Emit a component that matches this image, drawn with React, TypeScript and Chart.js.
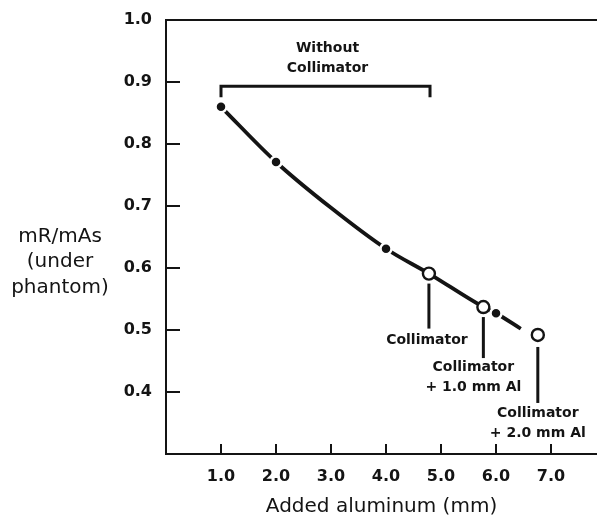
import React, { useEffect, useRef } from 'react';
import { Chart, registerables } from 'chart.js';

Chart.register(...registerables);

// ---- data ----
const curveX = [1.0, 2.0, 3.0, 4.0, 4.78, 5.77, 6.0, 6.45];
const curveY = [0.86, 0.771, 0.697, 0.631, 0.591, 0.537, 0.527, 0.502];
const dotX = [1.0, 2.0, 4.0, 6.0];
const dotY = [0.86, 0.771, 0.631, 0.527];
const openX = [4.78, 5.77, 6.76];
const openY = [0.591, 0.537, 0.492];
const openLabels = [
  ['Collimator'],
  ['Collimator', '+ 1.0 mm Al'],
  ['Collimator', '+ 2.0 mm Al'],
];
const xTicks = [1, 2, 3, 4, 5, 6, 7];
const yTicks = [0.4, 0.5, 0.6, 0.7, 0.8, 0.9, 1.0];
const bracketX = [1.0, 4.8];
const bracketY = 0.893;
const bracketLabel = ['Without', 'Collimator'];
const xTitle = 'Added aluminum (mm)';
const yTitle = ['mR/mAs', '(under', 'phantom)'];

const INK = '#141414';
const FONT = '"DejaVu Sans", sans-serif';

const annotPlugin = {
  id: 'annot',
  afterDraw(chart: any) {
    const { ctx, chartArea } = chart;
    const xs = chart.scales.x;
    const ys = chart.scales.y;
    ctx.save();
    ctx.strokeStyle = INK;
    ctx.fillStyle = INK;
    ctx.lineCap = 'butt';

    // top frame line
    ctx.lineWidth = 2;
    ctx.beginPath();
    ctx.moveTo(chartArea.left, chartArea.top);
    ctx.lineTo(chartArea.right, chartArea.top);
    ctx.stroke();

    // inward tick marks
    ctx.lineWidth = 2;
    xTicks.forEach((v) => {
      const px = Math.round(xs.getPixelForValue(v));
      ctx.beginPath();
      ctx.moveTo(px, chartArea.bottom);
      ctx.lineTo(px, chartArea.bottom - 10);
      ctx.stroke();
    });
    yTicks.forEach((v) => {
      const py = Math.round(ys.getPixelForValue(v));
      ctx.beginPath();
      ctx.moveTo(chartArea.left, py);
      ctx.lineTo(chartArea.left + 14, py);
      ctx.stroke();
    });

    // bracket "Without Collimator"
    const bx0 = xs.getPixelForValue(bracketX[0]);
    const bx1 = xs.getPixelForValue(bracketX[1]);
    const by = ys.getPixelForValue(bracketY);
    ctx.lineWidth = 3;
    ctx.beginPath();
    ctx.moveTo(bx0, by + 11);
    ctx.lineTo(bx0, by);
    ctx.lineTo(bx1, by);
    ctx.lineTo(bx1, by + 11);
    ctx.stroke();
    ctx.font = `bold 14px ${FONT}`;
    ctx.textAlign = 'center';
    ctx.textBaseline = 'middle';
    const bcx = (bx0 + bx1) / 2 + 2;
    ctx.fillText(bracketLabel[0], bcx, by - 38);
    ctx.fillText(bracketLabel[1], bcx, by - 18);

    // leader lines and labels for open circles
    const leaders = [
      { start: 10, end: 55, text: 12 },
      { start: 10, end: 51, text: 9 },
      { start: 12, end: 68, text: 10 },
    ];
    openX.forEach((v, i) => {
      const px = xs.getPixelForValue(v);
      const py = ys.getPixelForValue(openY[i]);
      const L = leaders[i];
      ctx.lineWidth = 3;
      ctx.beginPath();
      ctx.moveTo(px, py + L.start);
      ctx.lineTo(px, py + L.end);
      ctx.stroke();
      const lines = openLabels[i];
      const tx = i === 0 ? px - 2 : i === 1 ? px - 10 : px;
      lines.forEach((t, k) => {
        ctx.fillText(t, tx, py + L.end + L.text + k * 20);
      });
    });

    // y title (horizontal, left side)
    ctx.font = `20px ${FONT}`;
    const ymid = ys.getPixelForValue(0.6) - 6;
    yTitle.forEach((t, k) => {
      ctx.fillText(t, 60, ymid + (k - 1) * 25.5);
    });
    ctx.restore();
  },
};

export default function App() {
  const ref = useRef<HTMLCanvasElement | null>(null);
  useEffect(() => {
    if (!ref.current) return;
    const curve = curveX.map((x, i) => ({ x, y: curveY[i] }));
    const dots = dotX.map((x, i) => ({ x, y: dotY[i] }));
    const opens = openX.map((x, i) => ({ x, y: openY[i] }));
    const chart = new Chart(ref.current, {
      type: 'scatter',
      data: {
        datasets: [
          {
            data: dots,
            pointRadius: 5.5,
            pointBackgroundColor: INK,
            pointBorderColor: '#ffffff',
            pointBorderWidth: 2.5,
            showLine: false,
            order: 1,
          },
          {
            data: opens,
            pointRadius: 6,
            pointBackgroundColor: '#ffffff',
            pointBorderColor: INK,
            pointBorderWidth: 2.4,
            showLine: false,
            order: 0,
          },
          {
            data: curve,
            showLine: true,
            borderColor: INK,
            borderWidth: 3.8,
            pointRadius: 0,
            cubicInterpolationMode: 'monotone',
            order: 3,
          },
        ],
      },
      options: {
        animation: false,
        responsive: true,
        maintainAspectRatio: false,
        layout: { autoPadding: false, padding: { top: 20, right: 0, left: 0, bottom: 0 } },
        plugins: { legend: { display: false }, tooltip: { enabled: false } },
        scales: {
          x: {
            type: 'linear',
            min: 0,
            max: 7.836,
            afterFit: (s: any) => {
              s.height = 65;
              s.paddingLeft = 0;
              s.paddingRight = 0;
            },
            grid: { display: true, drawOnChartArea: false, drawTicks: false },
            border: { display: true, color: INK, width: 2 },
            ticks: {
              stepSize: 1,
              includeBounds: false,
              padding: 13,
              color: INK,
              font: { family: FONT, size: 16, weight: 'bold' },
              callback: (v: any) => (Number(v) < 0.5 ? '' : Number(v).toFixed(1)),
            },
            title: {
              display: true,
              text: xTitle,
              color: INK,
              font: { family: FONT, size: 20 },
              padding: { top: 0, bottom: 0 },
            },
          },
          y: {
            type: 'linear',
            min: 0.3,
            max: 1.0,
            afterFit: (s: any) => {
              s.width = 166;
              s.paddingTop = 0;
              s.paddingBottom = 0;
            },
            grid: { display: true, drawOnChartArea: false, drawTicks: false },
            border: { display: true, color: INK, width: 2 },
            ticks: {
              stepSize: 0.1,
              padding: 14,
              color: INK,
              font: { family: FONT, size: 16, weight: 'bold' },
              callback: (v: any) => (Number(v) < 0.35 ? '' : Number(v).toFixed(1)),
            },
          },
        },
      },
      plugins: [annotPlugin],
    } as any);
    return () => chart.destroy();
  }, []);
  return (
    <div style={{ position: 'absolute', left: 0, top: 0, width: 597, height: 519, background: '#fff' }}>
      <canvas ref={ref} />
    </div>
  );
}
